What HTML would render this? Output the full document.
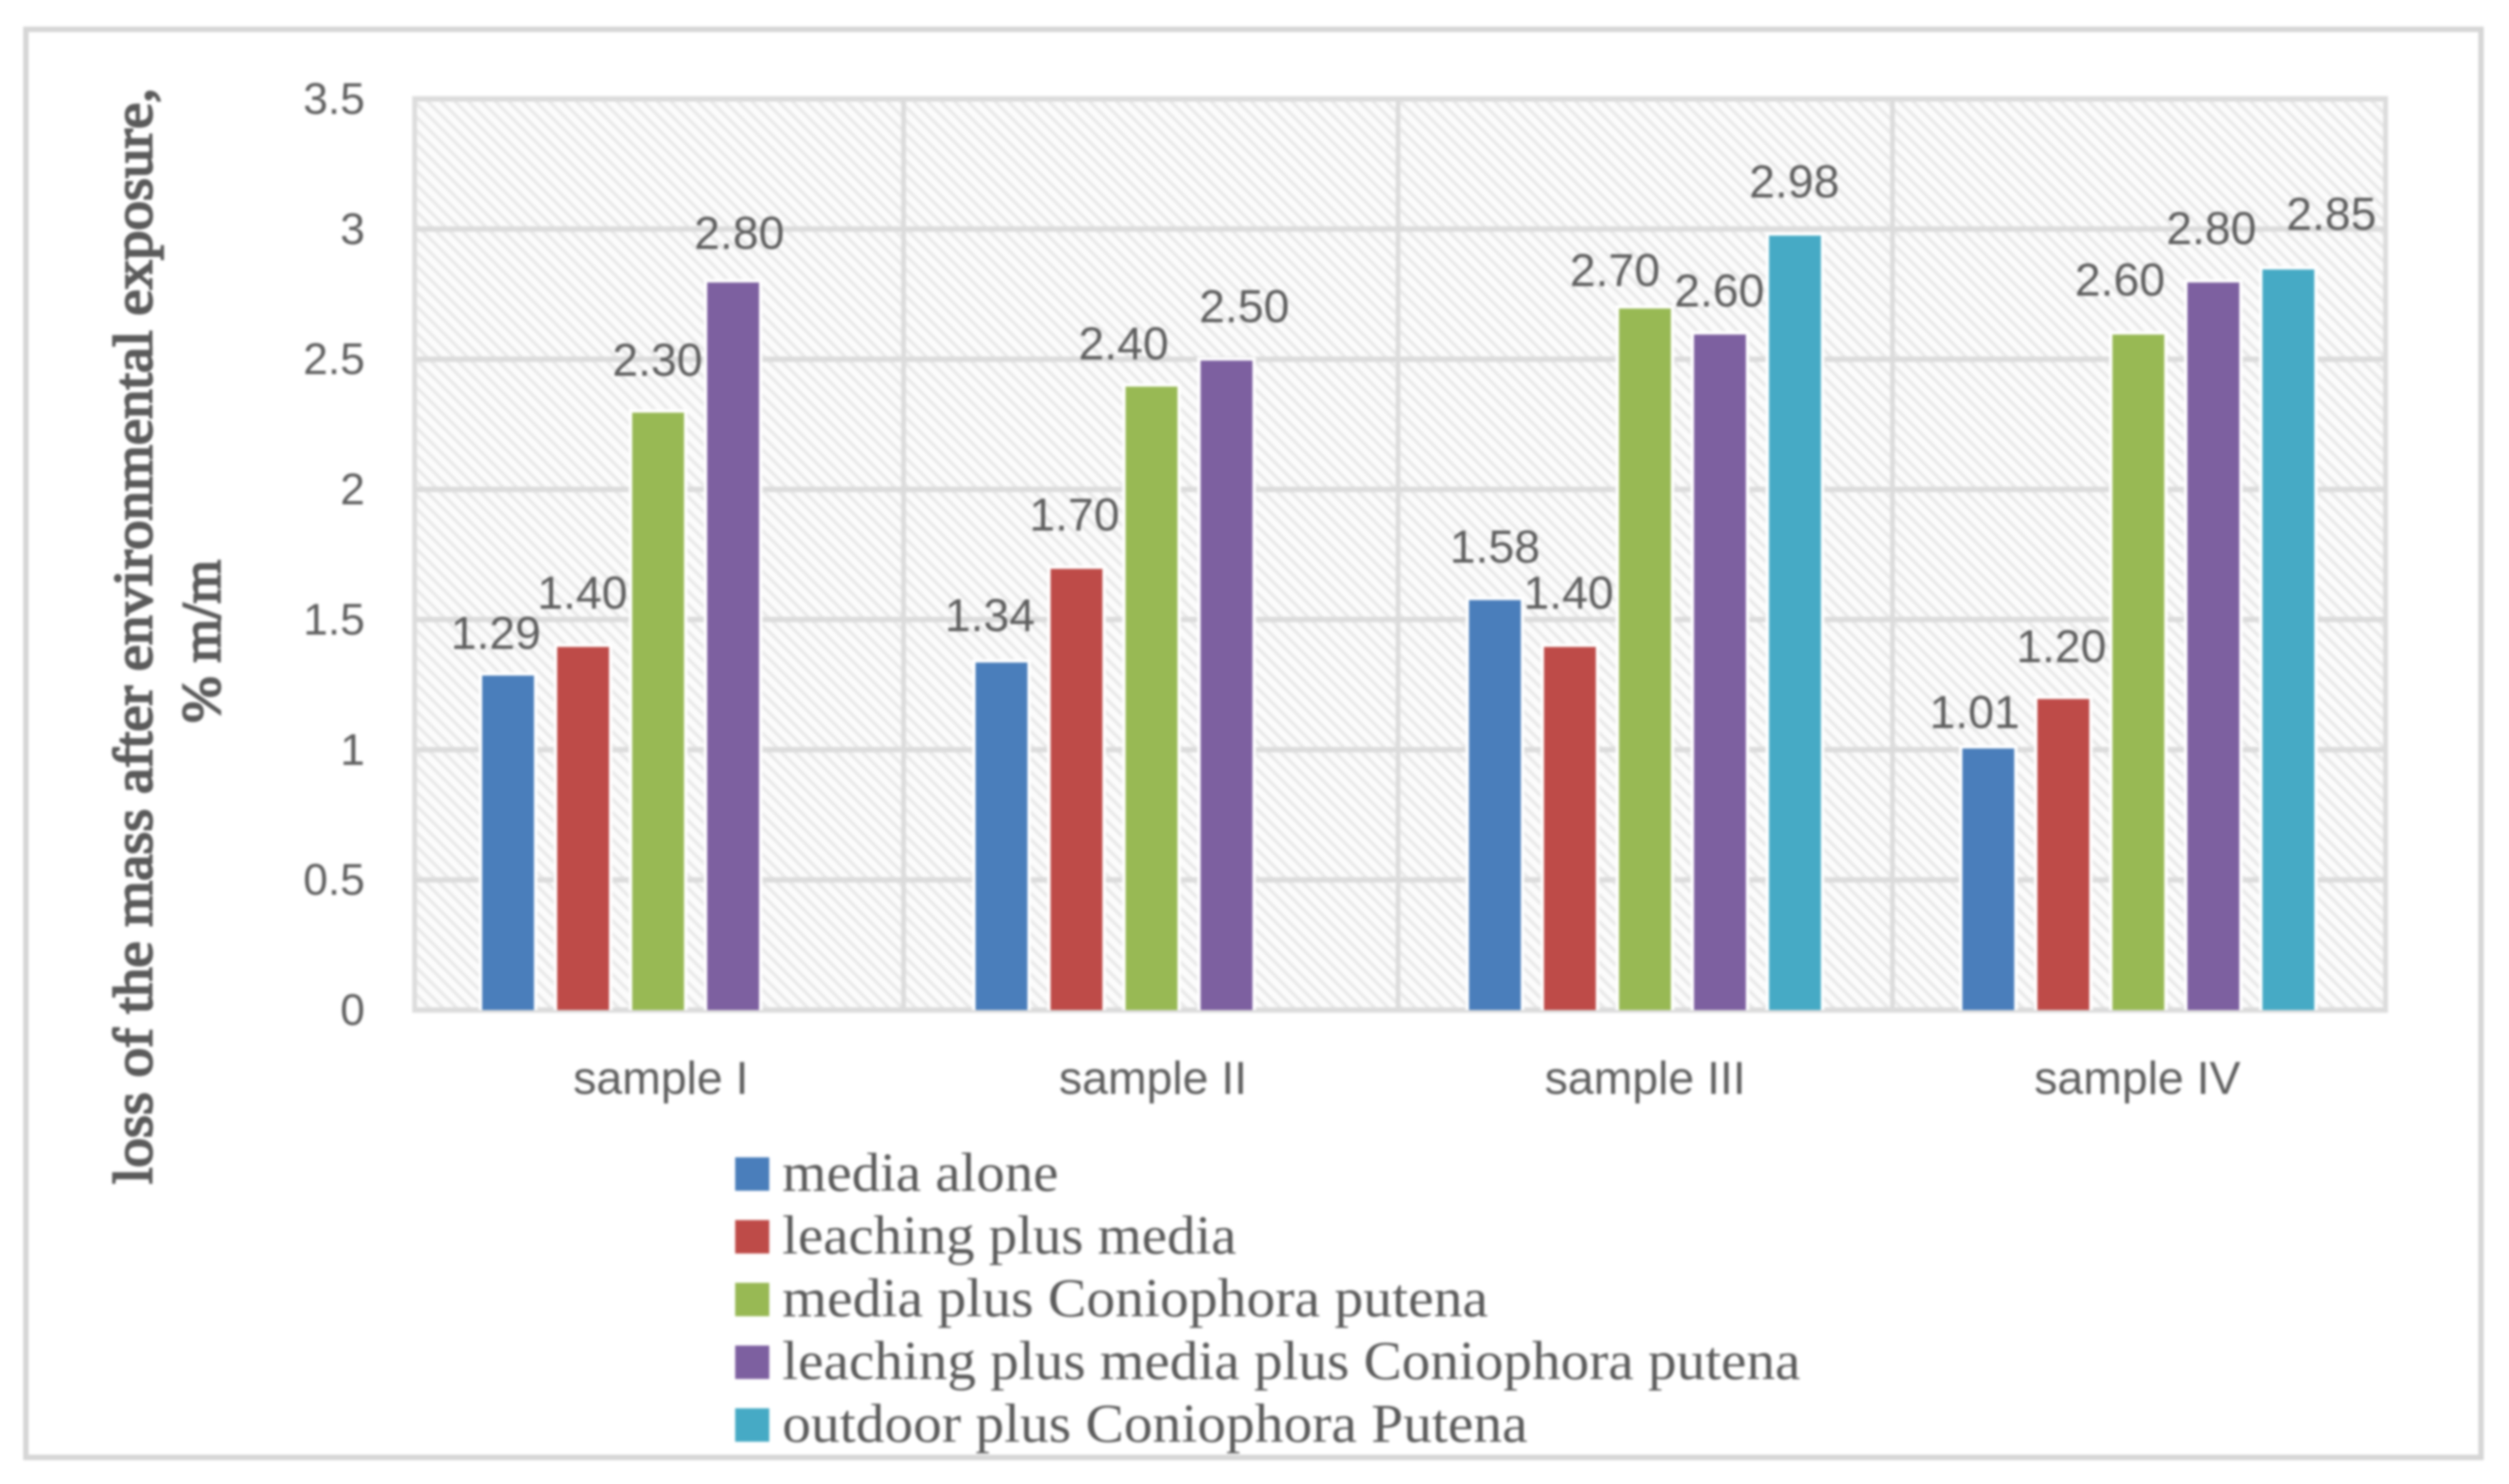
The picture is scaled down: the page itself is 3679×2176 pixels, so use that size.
<!DOCTYPE html>
<html lang="en">
<head>
<meta charset="utf-8">
<title>Loss of mass after environmental exposure</title>
<style>
html,body{margin:0;padding:0;background:#fff;}
svg{display:block;}
.sans{font-family:"Liberation Sans",sans-serif;fill:#5e5e5e;}
.serif{font-family:"Liberation Serif",serif;fill:#5a5a5a;}
</style>
</head>
<body>
<svg id="chart" xmlns="http://www.w3.org/2000/svg" width="3679" height="2176" viewBox="0 0 3679 2176">
  <defs>
    <pattern id="hatch" width="14" height="14" patternUnits="userSpaceOnUse" patternTransform="rotate(-45)">
      <rect width="14" height="14" fill="#fcfcfc"></rect>
      <rect width="5" height="14" fill="#e9e9e9"></rect>
    </pattern>
    <filter id="soft" x="0" y="0" width="100%" height="100%" color-interpolation-filters="sRGB">
      <feGaussianBlur stdDeviation="1.8"></feGaussianBlur>
    </filter>
  </defs>
  <g id="root" filter="url(#soft)">
    <rect x="0" y="0" width="3679" height="2176" fill="#ffffff"></rect>
    <rect x="38" y="43" width="3600" height="2094" fill="#ffffff" stroke="#d6d6d6" stroke-width="8"></rect>
    <rect x="608" y="145" width="2890" height="1336" fill="url(#hatch)"></rect>
    <g id="grid"></g>
    <g id="bars"></g>
    <g id="values"></g>
    <g id="yticks"></g>
    <g id="xticks"></g>
    <text class="serif" transform="translate(222,1736) rotate(-90)" font-size="80" stroke="#5a5a5a" stroke-width="3" textLength="1607" lengthAdjust="spacingAndGlyphs">loss of the mass after environmental exposure,</text>
    <text class="serif" transform="translate(322,1060) rotate(-90)" font-size="80" stroke="#5a5a5a" stroke-width="3" textLength="239" lengthAdjust="spacingAndGlyphs">% m/m</text>
    <g id="legend"></g>
  </g>
</svg>
<script>
const categories = ['sample I', 'sample II', 'sample III', 'sample IV'];
const yTickValues = [0, 0.5, 1, 1.5, 2, 2.5, 3, 3.5];
const yTickLabels = ['0', '0.5', '1', '1.5', '2', '2.5', '3', '3.5'];
const seriesNames = ['media alone', 'leaching plus media', 'media plus Coniophora putena', 'leaching plus media plus Coniophora putena', 'outdoor plus Coniophora Putena'];
const mediaAlone = [1.29, 1.34, 1.58, 1.01];
const leachingPlusMedia = [1.40, 1.70, 1.40, 1.20];
const mediaPlusConiophora = [2.30, 2.40, 2.70, 2.60];
const leachingPlusMediaPlusConiophora = [2.80, 2.50, 2.60, 2.80];
const outdoorPlusConiophora = [null, null, 2.98, 2.85];

const seriesValues = [mediaAlone, leachingPlusMedia, mediaPlusConiophora, leachingPlusMediaPlusConiophora, outdoorPlusConiophora];
const seriesColors = ['#4a7ebb', '#be4b48', '#98b954', '#7d60a0', '#46aac5'];
const legendWidths = [405, 666, 1035, 1493, 1093];
/* Hand-placed label offsets from each bar's top centre, as in the source figure */
const labelNudges = [
  [[-18,-60],[-17,-67],[0,-76],[-20,-51]],
  [[-1,-77],[-3,-77],[-2,-77],[-3,-75]],
  [[-1,-75],[-41,-61],[-44,-54],[-27,-78]],
  [[9,-70],[26,-77],[-1,-62],[-3,-77]],
  [null,null,[-1,-77],[63,-79]]
];

const NS = 'http://www.w3.org/2000/svg';
const PLOT_LEFT = 608, PLOT_RIGHT = 3498, PLOT_TOP = 145, PLOT_BOTTOM = 1481;
const Y_MAX = 3.5;
const BAR_WIDTH = 76;

function yScale(v) { return PLOT_BOTTOM - (v / Y_MAX) * (PLOT_BOTTOM - PLOT_TOP); }
function dividerX(i) {
  if (i === 0) return PLOT_LEFT;
  if (i === categories.length) return PLOT_RIGHT;
  return 1325 + (i - 1) * 725;
}
function barLeft(c, s) { return 707 + c * 723.5 + s * 110; }
function categoryCenter(c) { return 969 + c * 721.7; }
function make(tag, parent, attrs) {
  const el = document.createElementNS(NS, tag);
  for (const k in attrs) el.setAttribute(k, attrs[k]);
  parent.appendChild(el);
  return el;
}

const grid = document.getElementById('grid');
yTickValues.forEach(function (v) {
  const line = make('line', grid, { x1: PLOT_LEFT, x2: PLOT_RIGHT, y1: yScale(v), y2: yScale(v), stroke: '#dcdcdc', 'stroke-width': 8 });
  
  
});
for (let i = 0; i <= categories.length; i++) {
  const line = make('line', grid, { x1: dividerX(i), x2: dividerX(i), y1: PLOT_TOP - 4, y2: PLOT_BOTTOM + 4, stroke: '#dcdcdc', 'stroke-width': 7 });
  
  
}

const barsGroup = document.getElementById('bars');
seriesValues.forEach(function (vals, s) {
  vals.forEach(function (v, c) {
    if (v === null) return;
    const y = yScale(v) + 2;
    const halo = make('rect', barsGroup, { x: barLeft(c, s) - 5, y: y - 5, width: BAR_WIDTH + 10, height: PLOT_BOTTOM - y + 5, fill: '#ffffff' });
    
    
    const bar = make('rect', barsGroup, { x: barLeft(c, s), y: y, width: BAR_WIDTH, height: PLOT_BOTTOM - y, fill: seriesColors[s] });
    
    
  });
});

const valuesGroup = document.getElementById('values');
seriesValues.forEach(function (vals, s) {
  vals.forEach(function (v, c) {
    if (v === null) return;
    const n = labelNudges[s][c];
    const t = make('text', valuesGroup, { class: 'sans', x: barLeft(c, s) + BAR_WIDTH / 2 + n[0], y: yScale(v) + n[1] + 23, 'font-size': 68, 'text-anchor': 'middle' });
    t.textContent = v.toFixed(2);
    
    
  });
});

const yticks = document.getElementById('yticks');
yTickValues.forEach(function (v, i) {
  const t = make('text', yticks, { class: 'sans', x: 535, y: yScale(v) + 22, 'font-size': 65, 'text-anchor': 'end' });
  t.textContent = yTickLabels[i];
  
  
});

const xticks = document.getElementById('xticks');
categories.forEach(function (name, i) {
  const t = make('text', xticks, { class: 'sans', x: categoryCenter(i), y: 1604, 'font-size': 68, 'text-anchor': 'middle' });
  t.textContent = name;
  
  
});

const legend = document.getElementById('legend');
seriesNames.forEach(function (name, i) {
  const base = 1746 + i * 92;
  const sw = make('rect', legend, { x: 1078, y: base - 49, width: 50, height: 49, fill: seriesColors[i] });
  
  
  const t = make('text', legend, { class: 'serif', x: 1147, y: base, 'font-size': 80, textLength: legendWidths[i], lengthAdjust: 'spacingAndGlyphs' });
  t.textContent = name;
  
  
});
</script>
</body>
</html>
